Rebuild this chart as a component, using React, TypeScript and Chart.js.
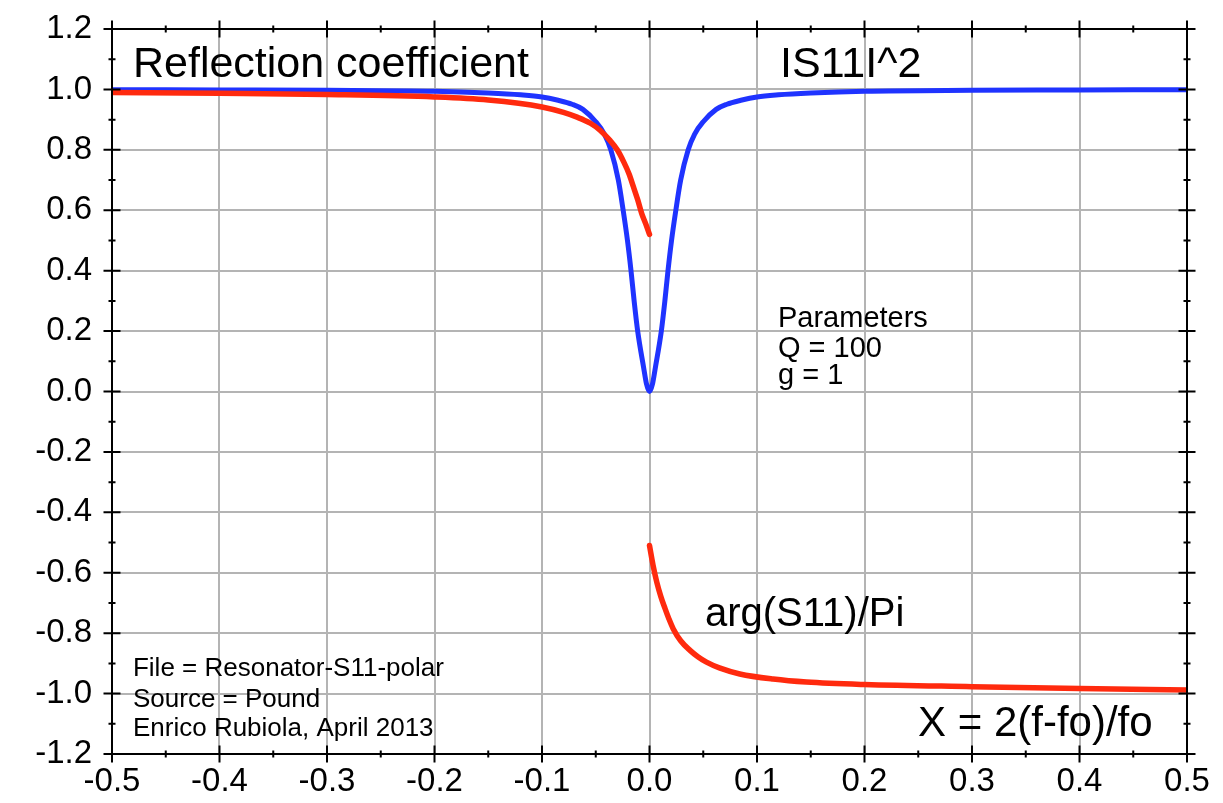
import React, { useEffect, useRef } from "react";
import { Chart, registerables } from "chart.js";

Chart.register(...registerables);

// ---- tick values and labels ----
const xTicks = [-0.5, -0.4, -0.3, -0.2, -0.1, 0.0, 0.1, 0.2, 0.3, 0.4, 0.5];
const xTickLabels = ["-0.5", "-0.4", "-0.3", "-0.2", "-0.1", "0.0", "0.1", "0.2", "0.3", "0.4", "0.5"];
const yTicks = [-1.2, -1.0, -0.8, -0.6, -0.4, -0.2, 0.0, 0.2, 0.4, 0.6, 0.8, 1.0, 1.2];
const yTickLabels = ["-1.2", "-1.0", "-0.8", "-0.6", "-0.4", "-0.2", "0.0", "0.2", "0.4", "0.6", "0.8", "1.0", "1.2"];

// ---- |S11|^2 (blue) ----
const s11X = [-0.5, -0.4, -0.3, -0.2, -0.15, -0.12, -0.1, -0.085, -0.072, -0.062, -0.05, -0.042, -0.036, -0.029, -0.0245, -0.0205, -0.0172, -0.0143, -0.011, -0.0055, -0.0028, 0,
  0.0028, 0.0055, 0.011, 0.0143, 0.0172, 0.0205, 0.0245, 0.029, 0.036, 0.042, 0.05, 0.062, 0.072, 0.085, 0.1, 0.12, 0.15, 0.2, 0.3, 0.4, 0.5];
const s11Y = [0.999, 0.998, 0.997, 0.994, 0.988, 0.982, 0.975, 0.964, 0.951, 0.934, 0.893, 0.852, 0.8, 0.7, 0.6, 0.5, 0.4, 0.3, 0.2, 0.08, 0.025, 0.0,
  0.025, 0.08, 0.2, 0.3, 0.4, 0.5, 0.6, 0.7, 0.8, 0.852, 0.893, 0.934, 0.951, 0.964, 0.975, 0.982, 0.988, 0.994, 0.997, 0.998, 0.999];

// ---- arg(S11)/Pi (red), below resonance ----
const argLowX = [-0.5, -0.4, -0.3, -0.2, -0.15, -0.1, -0.08, -0.068, -0.055, -0.046, -0.037, -0.03, -0.024, -0.019, -0.015, -0.011, -0.0073, -0.0035, 0];
const argLowY = [0.99, 0.987, 0.983, 0.975, 0.965, 0.942, 0.924, 0.909, 0.888, 0.865, 0.832, 0.8, 0.76, 0.72, 0.678, 0.635, 0.59, 0.555, 0.52];

// ---- arg(S11)/Pi (red), above resonance ----
const argHighX = [0, 0.0033, 0.0067, 0.0105, 0.0144, 0.018, 0.022, 0.029, 0.0377, 0.045, 0.053, 0.065, 0.084, 0.115, 0.146, 0.2, 0.3, 0.4, 0.5];
const argHighY = [-0.51, -0.575, -0.63, -0.678, -0.718, -0.752, -0.785, -0.825, -0.857, -0.878, -0.896, -0.915, -0.935, -0.952, -0.962, -0.97, -0.977, -0.983, -0.988];

const FONT = "'Liberation Sans', Arial, Helvetica, sans-serif";
const BLUE = "#1f33ff";
const RED = "#ff2a0e";

const notes = [
  { text: "Reflection coefficient", x: -0.4805, y: 1.042, size: 43 },
  { text: "IS11I^2", x: 0.1214, y: 1.042, size: 43 },
  { text: "Parameters", x: 0.1195, y: 0.215, size: 29 },
  { text: "Q = 100", x: 0.1195, y: 0.113, size: 29 },
  { text: "g = 1", x: 0.1195, y: 0.025, size: 29 },
  { text: "File = Resonator-S11-polar", x: -0.4805, y: -0.941, size: 26 },
  { text: "Source = Pound", x: -0.4805, y: -1.044, size: 26 },
  { text: "Enrico Rubiola, April 2013", x: -0.4805, y: -1.141, size: 26 },
  { text: "arg(S11)/Pi", x: 0.0516, y: -0.775, size: 40 },
  { text: "X = 2(f-fo)/fo", x: 0.2498, y: -1.141, size: 42 },
];

const toPoints = (xs: number[], ys: number[]) => xs.map((x, i) => ({ x, y: ys[i] }));

const bgPlugin = {
  id: "bg",
  beforeDraw(chart: any) {
    const { ctx, width, height } = chart;
    ctx.save();
    ctx.fillStyle = "#ffffff";
    ctx.fillRect(0, 0, width, height);
    ctx.restore();
  },
};

const framePlugin = {
  id: "frame",
  afterDatasetsDraw(chart: any) {
    const { ctx, chartArea: a, scales } = chart;
    const xs = scales.x;
    const ys = scales.y;
    ctx.save();
    ctx.strokeStyle = "#000";
    ctx.lineWidth = 2;
    ctx.strokeRect(a.left, a.top, a.right - a.left, a.bottom - a.top);
    ctx.beginPath();
    const major = 8.5;
    const minor = 3.5;
    xTicks.forEach((v, i) => {
      const px = xs.getPixelForValue(v);
      ctx.moveTo(px, a.top - major); ctx.lineTo(px, a.top + major);
      ctx.moveTo(px, a.bottom - major); ctx.lineTo(px, a.bottom + major);
      if (i < xTicks.length - 1) {
        const pm = xs.getPixelForValue((v + xTicks[i + 1]) / 2);
        ctx.moveTo(pm, a.top - minor); ctx.lineTo(pm, a.top + minor);
        ctx.moveTo(pm, a.bottom - minor); ctx.lineTo(pm, a.bottom + minor);
      }
    });
    yTicks.forEach((v, i) => {
      const py = ys.getPixelForValue(v);
      ctx.moveTo(a.left - major, py); ctx.lineTo(a.left + major, py);
      ctx.moveTo(a.right - major, py); ctx.lineTo(a.right + major, py);
      if (i < yTicks.length - 1) {
        const pm = ys.getPixelForValue((v + yTicks[i + 1]) / 2);
        ctx.moveTo(a.left - minor, pm); ctx.lineTo(a.left + minor, pm);
        ctx.moveTo(a.right - minor, pm); ctx.lineTo(a.right + minor, pm);
      }
    });
    ctx.stroke();
    ctx.restore();
  },
  afterDraw(chart: any) {
    const { ctx, scales } = chart;
    ctx.save();
    ctx.fillStyle = "#000";
    ctx.textAlign = "left";
    ctx.textBaseline = "alphabetic";
    notes.forEach((n) => {
      ctx.font = `${n.size}px ${FONT}`;
      ctx.fillText(n.text, scales.x.getPixelForValue(n.x), scales.y.getPixelForValue(n.y));
    });
    ctx.restore();
  },
};

export default function App() {
  const canvasRef = useRef<HTMLCanvasElement | null>(null);

  useEffect(() => {
    if (!canvasRef.current) return;
    const line = (label: string, xs: number[], ys: number[], color: string, width: number) => ({
      label,
      data: toPoints(xs, ys),
      showLine: true,
      borderColor: color,
      borderWidth: width,
      pointRadius: 0,
      cubicInterpolationMode: "monotone",
      borderCapStyle: "round",
      borderJoinStyle: "round",
    });
    const chart = new Chart(canvasRef.current, {
      type: "scatter",
      data: {
        datasets: [
          line("arg(S11)/Pi low", argLowX, argLowY, RED, 5.5),
          line("arg(S11)/Pi high", argHighX, argHighY, RED, 5.5),
          line("|S11|^2", s11X, s11Y, BLUE, 5),
        ],
      },
      options: {
        animation: false,
        responsive: true,
        maintainAspectRatio: false,
        layout: { padding: { left: 0, right: 36, top: 29, bottom: 0 } },
        plugins: { legend: { display: false }, tooltip: { enabled: false } },
        scales: {
          x: {
            type: "linear",
            min: -0.5,
            max: 0.5,
            afterBuildTicks: (s: any) => { s.ticks = xTicks.map((v) => ({ value: v })); },
            afterFit: (s: any) => { s.height = 49; s.paddingLeft = 0; s.paddingRight = 0; },
            grid: { color: "#b4b4b4", lineWidth: 2, drawTicks: false },
            border: { display: false },
            ticks: {
              autoSkip: false,
              maxRotation: 0,
              padding: 8,
              color: "#000",
              font: { family: FONT, size: 33 },
              callback: (_v: any, i: number) => xTickLabels[i],
            },
          },
          y: {
            type: "linear",
            min: -1.2,
            max: 1.2,
            afterBuildTicks: (s: any) => { s.ticks = yTicks.map((v) => ({ value: v })); },
            afterFit: (s: any) => { s.width = 112; s.paddingTop = 0; s.paddingBottom = 0; },
            grid: { color: "#b4b4b4", lineWidth: 2, drawTicks: false },
            border: { display: false },
            ticks: {
              autoSkip: false,
              padding: 20,
              color: "#000",
              font: { family: FONT, size: 33 },
              callback: (_v: any, i: number) => yTickLabels[i],
            },
          },
        },
      },
      plugins: [bgPlugin, framePlugin],
    } as any);
    return () => chart.destroy();
  }, []);

  return (
    <div style={{ position: "fixed", left: 0, top: 0, width: 1223, height: 803, background: "#fff" }}>
      <canvas ref={canvasRef} />
    </div>
  );
}
